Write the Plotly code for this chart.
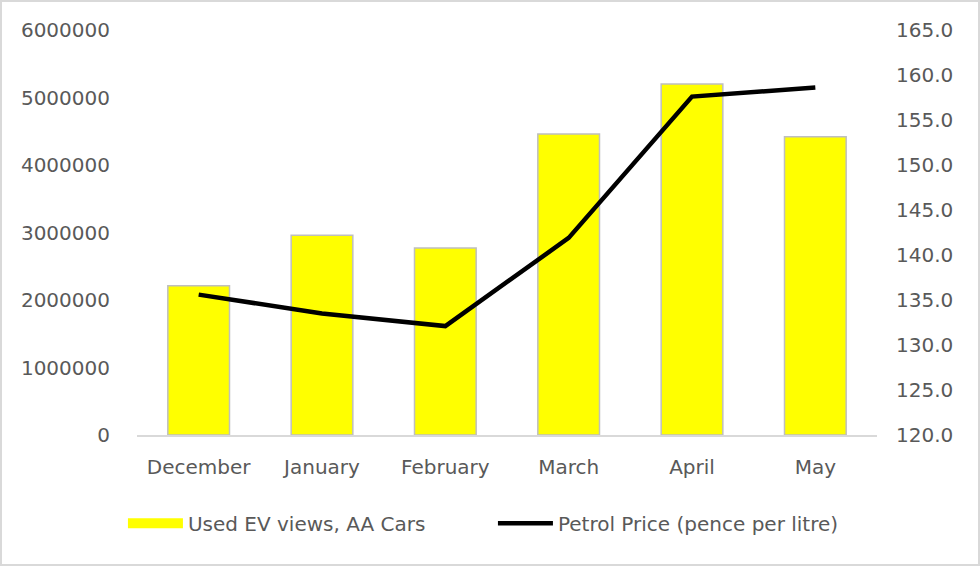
import plotly.graph_objects as go

months = ["December", "January", "February", "March", "April", "May"]
ev_views = [2210000, 2960000, 2770000, 4460000, 5200000, 4420000]
petrol_price = [135.6, 133.5, 132.1, 141.9, 157.6, 158.6]
left_ticks = [0, 1000000, 2000000, 3000000, 4000000, 5000000, 6000000]
right_ticks = [120, 125, 130, 135, 140, 145, 150, 155, 160, 165]

W, H = 980, 566
ml, mr, mt, mb = 137, 103, 30, 131

fig = go.Figure()
fig.add_trace(go.Bar(
    x=months, y=ev_views, name="Used EV views, AA Cars",
    marker=dict(color="#FFFF00", line=dict(color="#BFBFBF", width=1.5)),
    yaxis="y", showlegend=False,
))
# legend-only entry giving the wide yellow swatch used in the original
fig.add_trace(go.Scatter(
    x=[None], y=[None], name="Used EV views, AA Cars",
    mode="lines", line=dict(color="#FFFF00", width=16),
    yaxis="y", showlegend=True,
))
fig.add_trace(go.Scatter(
    x=months, y=petrol_price, name="Petrol Price (pence per litre)",
    mode="lines", line=dict(color="#000000", width=4.5),
    yaxis="y2",
))

font_col = "#595959"
fig.update_layout(
    width=W, height=H,
    margin=dict(l=ml, r=mr, t=mt, b=mb),
    paper_bgcolor="white", plot_bgcolor="white",
    font=dict(family="DejaVu Sans, Arial, sans-serif", size=20, color=font_col),
    bargap=0.5,
    showlegend=True,
    legend=dict(orientation="h", x=0.481, xanchor="center", y=-0.17, yanchor="top",
                font=dict(size=20, color=font_col), itemwidth=55,
                entrywidth=300, entrywidthmode="pixels",
                traceorder="normal"),
    xaxis=dict(showline=True, linecolor="#D9D9D9", linewidth=1.5, showgrid=False,
               ticks="", ticklabelstandoff=13),
    yaxis=dict(range=[0, 6000000], tickvals=left_ticks, tickformat="d",
               showgrid=False, zeroline=False, showline=False, ticks="",
               ticklabelstandoff=26),
    yaxis2=dict(range=[120, 165], tickvals=right_ticks, tickformat=".1f",
                overlaying="y", side="right", showgrid=False, zeroline=False,
                showline=False, ticks="", ticklabelstandoff=18),
    shapes=[dict(type="rect", xref="paper", yref="paper",
                 x0=-(ml - 1) / (W - ml - mr), x1=1 + (mr - 1) / (W - ml - mr),
                 y0=-(mb - 1) / (H - mt - mb), y1=1 + (mt - 1) / (H - mt - mb),
                 line=dict(color="#D9D9D9", width=2), layer="below")],
)

fig.write_html("out.html")
